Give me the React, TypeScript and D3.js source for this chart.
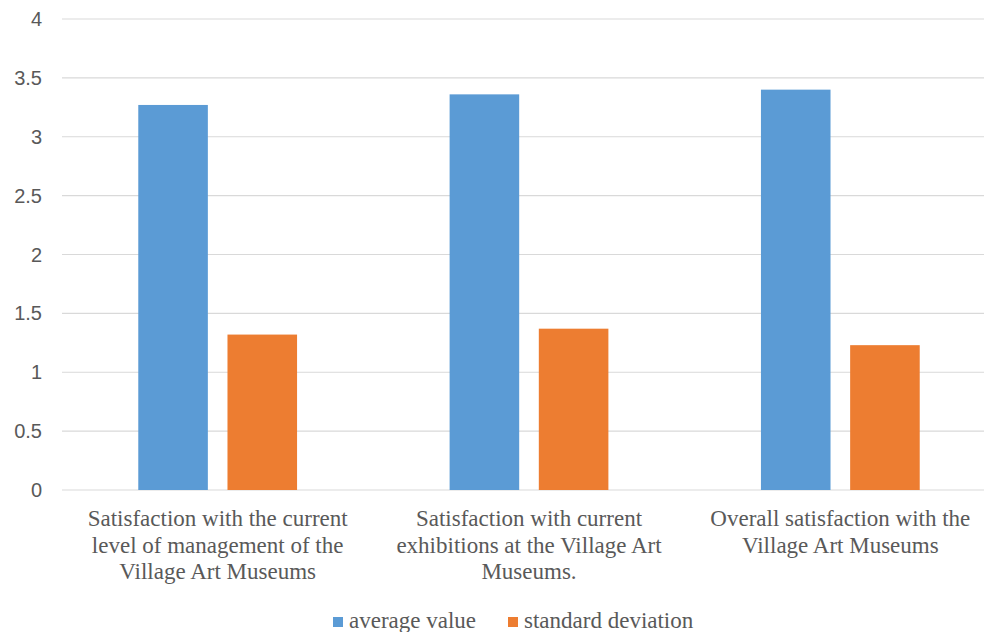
import * as React from "react";
import * as d3 from "d3";

const categories: string[][] = [
  ["Satisfaction with the current", "level of management of the", "Village Art Museums"],
  ["Satisfaction with current", "exhibitions at the Village Art", "Museums."],
  ["Overall satisfaction with the", "Village Art Museums"],
];
const seriesNames = ["average value", "standard deviation"];
const seriesColors = ["#5B9BD5", "#ED7D31"];
const averageValues = [3.27, 3.36, 3.4];
const stdDevValues = [1.32, 1.37, 1.23];
const yTicks = [0, 0.5, 1, 1.5, 2, 2.5, 3, 3.5, 4];

const W = 984;
const H = 632;
const serif = "'Liberation Serif', 'Times New Roman', serif";
const sans = "'Liberation Sans', Arial, sans-serif";
const textColor = "#595959";

export default function App() {
  const series = [averageValues, stdDevValues];
  const catKeys = categories.map((_, i) => String(i));

  const x0 = d3
    .scaleBand<string>()
    .domain(catKeys)
    .range([62, 996])
    .paddingInner(0.49)
    .paddingOuter(0.245);

  const x1 = d3
    .scaleBand<string>()
    .domain(seriesNames)
    .range([0, x0.bandwidth()])
    .paddingInner(0.22);

  const y = d3.scaleLinear().domain([0, 4]).range([490, 19]);

  return (
    <div style={{ position: "absolute", left: 0, top: 0 }}>
      <svg width={W} height={H} style={{ display: "block", background: "#fff" }}>
        {/* grid + y labels */}
        {yTicks.map(t => (
          <g key={t}>
            <line x1={62} x2={W} y1={y(t)} y2={y(t)} stroke="#D9D9D9" strokeWidth={1.2} />
            <text
              x={42}
              y={y(t)}
              dy="0.35em"
              textAnchor="end"
              fontFamily={sans}
              fontSize={20}
              fill={textColor}
            >
              {t}
            </text>
          </g>
        ))}

        {/* bars */}
        {catKeys.map((k, i) => (
          <g key={k} transform={`translate(${x0(k)},0)`}>
            {seriesNames.map((s, j) => (
              <rect
                key={s}
                x={x1(s)}
                y={y(series[j][i])}
                width={x1.bandwidth()}
                height={y(0) - y(series[j][i])}
                fill={seriesColors[j]}
              />
            ))}
          </g>
        ))}

        {/* category labels */}
        {categories.map((lines, i) => {
          const cx = (x0(String(i)) as number) + x0.bandwidth() / 2;
          return (
            <text
              key={i}
              textAnchor="middle"
              fontFamily={serif}
              fontSize={23}
              fill={textColor}
            >
              {lines.map((l, li) => (
                <tspan key={li} x={cx} y={526 + li * 26.5}>
                  {l}
                </tspan>
              ))}
            </text>
          );
        })}

        {/* legend */}
        <g>
          {seriesNames.map((s, j) => {
            const lx = j === 0 ? 333 : 508;
            return (
              <g key={s}>
                <rect x={lx} y={617} width={10} height={10} fill={seriesColors[j]} />
                <text x={lx + 16} y={628} fontFamily={serif} fontSize={23} fill={textColor}>
                  {s}
                </text>
              </g>
            );
          })}
        </g>
      </svg>
    </div>
  );
}
